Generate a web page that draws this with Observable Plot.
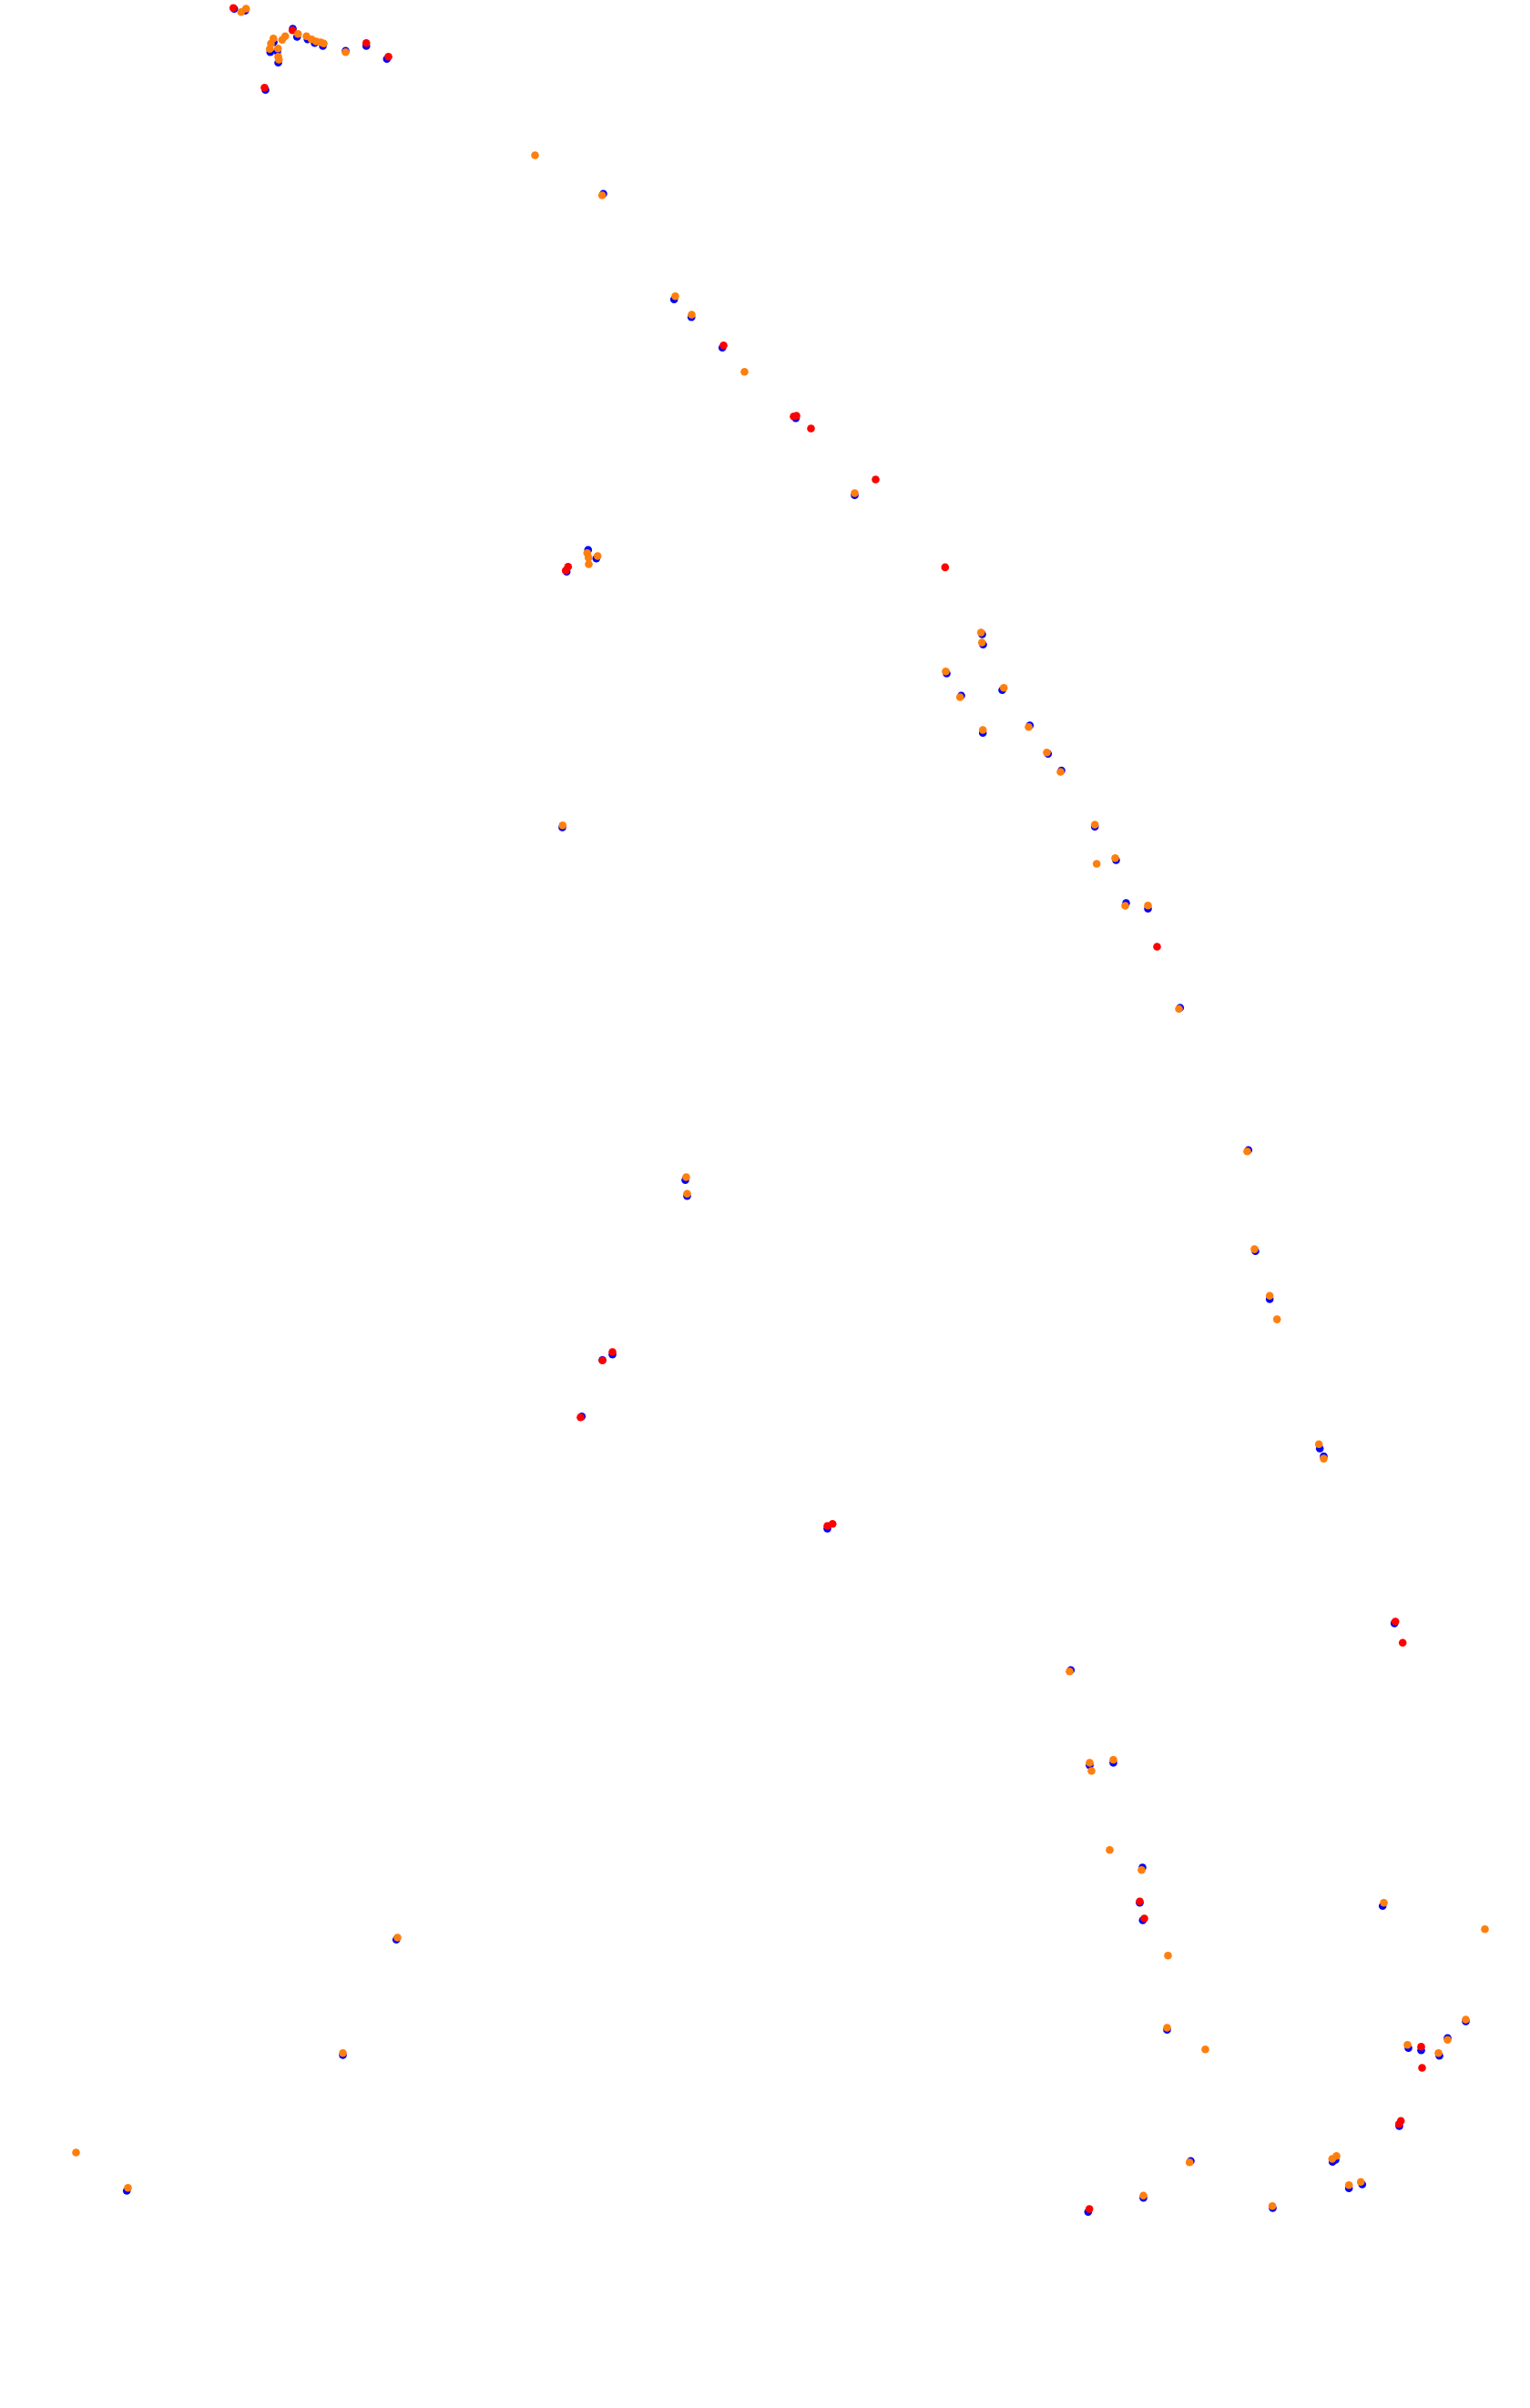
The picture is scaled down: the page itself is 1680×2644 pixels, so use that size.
<!DOCTYPE html>
<html>
<head>
<meta charset="utf-8">
<script src="https://cdn.jsdelivr.net/npm/d3@7"></script>
<script src="https://cdn.jsdelivr.net/npm/@observablehq/plot@0.6"></script>
<style>
  html, body { margin: 0; padding: 0; background: #ffffff; }
  #chart svg { display: block; }
</style>
</head>
<body>
<div id="chart"></div>
<script>
// Point positions (track coordinates, y grows downward)
const bluePoints = [
  [256.7,9.3],[268.7,11.3],[321,31],[325.7,40],[296.3,56.7],[304,56],[305,68.3],[300,45.7],
  [337.3,42.7],[345,46.7],[354,50],[379,55.3],[401.7,50],[424.3,64.3],[291,98.3],
  [621.7,627.3],[645.3,603.3],[654.3,612.7],
  [1078,696],[1079,707.3],[1039,739],[1100,757.3],[1055,763.3],[1078.7,804.3],[1130.3,796],
  [1150.3,827.3],[1165,845.5],[1201.7,907.3],[1225,944],[1236,991],[1260,997.3],[1295.3,1106],
  [1517.7,2092.3],[1609,2219],[1589,2237.3],[1546,2248.3],[1560,2250.7],[1580,2256.7],
  [1536,2334],[1462.7,2373.3],[1466,2371],[1480.7,2402.3],[1495.3,2398],
  [1175.3,1833.3],[1196,1937.7],[1222,1935],[1254,2050],[1251,2088.7],[1254.3,2108],
  [1281,2228.3],[1307,2372.3],[1255,2412.7],[1194.3,2428.3],
  [662,212.3],[739.7,328.3],[758.7,347.7],[792.7,381.3],[873.3,458.7],[938,543.3],
  [752,1295.3],[754,1312.7],[672,1486.7],[661,1492.7],[638.3,1554.7],[908,1678],
  [1370.3,1262.2],[1378,1373.3],[1393.7,1425.9],[1448.7,1590],[1453,1598.5],[1530.7,1781.9],
  [434.7,2129.3],[376,2256],[138.7,2405],[617,908],[1397,2424]
];
const redPoints = [
  [255.7,8.3],[320.7,32.7],[401.7,46.7],[426,61.7],[290,95.7],
  [623.3,621.7],[620.7,626],[1270,1039],
  [1560,2246.7],[1561,2270],[1537.7,2328.3],[1535.7,2331.7],
  [1251,2087.3],[1256,2106],[1195.7,2425],
  [794,378.7],[871,456.7],[874,456],[890,470],[961,526],[1037.3,622.4],
  [672,1484],[661,1493.3],[637,1555.7],[913.7,1672.7],[908,1675],
  [1531.7,1780],[1539.7,1803.3]
];
const orangePoints = [
  [269.7,9],[264.3,12.7],[326.7,36.7],[299.7,41.7],[312.7,39.3],[309.3,43.3],[297,47.3],
  [295.7,53.3],[304.7,52.7],[305,61.7],[305.7,65],[336,39.3],[341.7,42.7],[346.7,45],
  [351.7,46],[355,47.3],[379,56.7],
  [644.3,606.7],[645.7,611.7],[646,619],[655.7,610],
  [1076.7,694],[1077.7,705],[1038,736.7],[1101.7,754.7],[1053.7,765],[1078.7,801],
  [1129,797.7],[1149,825.7],[1164,847],[1201.7,905],[1203.7,948],[1224,941.7],
  [1235,994],[1260,993.7],[1294,1107.3],
  [1519,2088.7],[1630,2117.7],[1609,2217],[1589,2239.3],[1545,2244.7],[1579,2253.7],
  [1467,2366.7],[1462.3,2370],[1480.7,2398.7],[1493.7,2395.3],
  [1174,1834.7],[1196,1935],[1198,1944],[1222,1931.7],[1218,2030.7],[1253,2052.7],
  [1282,2146.7],[1281,2226],[1323,2249.7],[1305.7,2373.7],[1255,2410.3],
  [587,170],[660.7,214],[741,324.7],[759,345],[817,407.7],[938,541],
  [753,1292],[754,1310.3],
  [1369,1263.7],[1377,1371.1],[1393.7,1422.2],[1401.7,1448.1],[1447.7,1585.2],[1453,1601.1],
  [436,2127],[376,2253.7],[83,2363],[140,2401.7],[617.3,905.8],[1396.6,2421.7]
];

const seriesColors = {blue: "#0000ff", red: "#ff0000", orange: "#ff7f0e"};

const chart = Plot.plot({
  width: 1680,
  height: 2644,
  margin: 0,
  style: {background: "#ffffff"},
  x: {domain: [0, 1680], range: [0, 1680], axis: null},
  y: {domain: [0, 2644], range: [0, 2644], axis: null},
  marks: [
    Plot.dot(bluePoints, {x: d => d[0], y: d => d[1], r: 4.3, fill: seriesColors.blue, stroke: "none"}),
    Plot.dot(redPoints, {x: d => d[0], y: d => d[1], r: 4.3, fill: seriesColors.red, stroke: "none"}),
    Plot.dot(orangePoints, {x: d => d[0], y: d => d[1], r: 4.3, fill: seriesColors.orange, stroke: "none"})
  ]
});
document.getElementById("chart").appendChild(chart);
</script>
</body>
</html>
